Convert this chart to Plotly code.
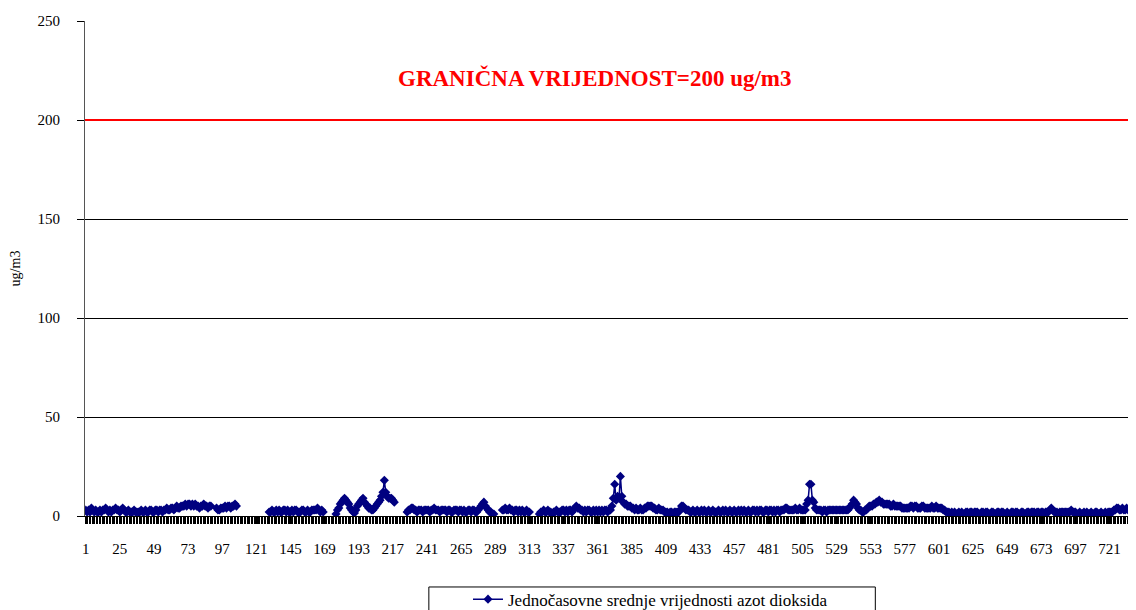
import plotly.graph_objects as go

# hourly NO2 means for one month (24 values per day, None = missing)
day_values = [
    [3, 2, 3, 2, 4, 3, 2, 3, 2, 2, 3, 2, 3, 3, 4, 3, 2, 3, 2, 3, 3, 4, 3, 3],
    [2, 3, 4, 3, 2, 2, 3, 2, 2, 2, 3, 2, 2, 2, 2, 3, 2, 2, 3, 2, 2, 3, 3, 2],
    [2, 3, 3, 2, 3, 3, 2, 3, 3, 4, 3, 3, 4, 4, 3, 4, 5, 4, 4, 5, 5, 5, 6, 5],
    [6, 6, 5, 6, 5, 6, 5, 5, 4, 5, 5, 6, 5, 5, 4, 5, 5, None, None, None, 4, 3, 3, 4],
    [4, 4, 5, 4, 5, 5, 4, 5, 5, 6, 5, None, None, None, None, None, None, None, None, None, None, None, None, None],
    [None, None, None, None, None, None, None, None, None, 2, 2, 3, 2, 2, 3, 2, 3, 2, 2, 3, 3, 2, 3, 2],
    [2, 3, 2, 3, 3, 2, 2, 2, 3, 3, 2, 2, 3, 2, 2, 3, 3, 3, 3, 4, 3, 2, 3, 2],
    [None, None, None, None, None, None, None, None, 1, 3, 4, 6, 7, 8, 9, 8, 7, 6, 4, 3, 2, 1.5, 3, 5],
    [6, 7, 8, 9, 7, 6, 5, 4, 4, 3, 3, 4, 5, 6, 7, 8, 10, 12, 18, 12, 10, 9, 9, 9],
    [8, 7, None, None, None, None, None, None, None, None, 2, 3, 3, 4, 4, 3, 3, 2, 3, 3, 3, 2, 3, 3],
    [3, 3, 2, 3, 3, 4, 3, 3, 3, 2, 3, 3, 3, 3, 2, 3, 3, 2, 2, 3, 3, 3, 2, 3],
    [3, 2, 3, 2, 2, 3, 3, 2, 3, 3, 2, 2, 3, 4, 5, 6, 7, 5, 4, 3, 2, 2, 1, 1],
    [None, None, None, None, None, 3, 3, 4, 3, 3, 4, 3, 3, 2, 3, 3, 2, 3, 2, 3, 2, 2, 3, 2],
    [2, None, None, None, None, None, None, 1, 2, 2, 3, 2, 2, 3, 2, 2, 1, 2, 2, 3, 2, 2, 2, 3],
    [3, 2, 3, 2, 3, 3, 2, 3, 4, 5, 4, 4, 3, 3, 2, 3, 2, 3, 3, 2, 2, 3, 2, 3],
    [2, 3, 2, 3, 2, 3, 3, 2, 3, 3, 5, 9, 16, 8, 10, 9, 20, 10, 7, 6, 6, 5, 5, 5],
    [4, 4, 3, 4, 3, 3, 4, 3, 3, 4, 4, 5, 5, 5, 5, 4, 4, 3, 3, 4, 3, 3, 3, 2],
    [2, 2, 1, 2, 2, 1, 2, 2, 2, 2, 3, 5, 5, 4, 3, 3, 3, 2, 2, 3, 2, 2, 3, 2],
    [2, 3, 2, 3, 2, 2, 3, 2, 2, 3, 2, 2, 2, 3, 2, 2, 3, 2, 3, 2, 2, 3, 2, 2],
    [3, 2, 2, 3, 2, 3, 2, 3, 2, 2, 3, 2, 2, 3, 3, 2, 3, 2, 3, 3, 2, 2, 3, 3],
    [2, 3, 3, 2, 3, 2, 3, 3, 2, 3, 3, 3, 4, 4, 3, 3, 3, 3, 3, 4, 3, 3, 4, 3],
    [3, 3, 3, 6, 8, 16, 16, 8, 7, 4, 3, 3, 3, 3, 2, 3, 3, 2, 3, 3, 3, 3, 3, 3],
    [3, 3, 3, 3, 3, 3, 3, 3, 3, 4, 5, 6, 8, 7, 6, 4, 3, 3, 2, 2, 3, 3, 4, 5],
    [5, 5, 6, 6, 7, 7, 8, 7, 7, 6, 6, 6, 6, 6, 5, 5, 6, 5, 5, 5, 5, 5, 4, 4],
    [4, 4, 4, 4, 5, 5, 4, 5, 5, 4, 4, 4, 5, 5, 4, 4, 4, 4, 4, 5, 4, 4, 5, 4],
    [4, 4, 4, 3, 3, 2, 2, 2, 1, 2, 1, 2, 1, 1, 2, 1, 2, 1, 1, 2, 2, 1, 2, 2],
    [1, 2, 2, 2, 1, 1, 2, 2, 1, 2, 2, 1, 1, 2, 2, 1, 1, 2, 2, 1, 2, 2, 1, 1],
    [2, 1, 1, 2, 2, 1, 2, 2, 1, 1, 2, 2, 1, 1, 2, 2, 1, 2, 2, 2, 1, 2, 2, 1],
    [2, 2, 1, 2, 2, 2, 3, 4, 3, 2, 2, 2, 1, 2, 2, 2, 2, 2, 2, 2, 2, 3, 2, 2],
    [2, 1, 1, 2, 1, 1, 2, 1, 2, 1, 1, 2, 1, 1, 2, 2, 1, 1, 2, 1, 1, 2, 1, 2],
    [2, 2, 2, 3, 3, 4, 4, 3, 3, 4, 3, 3, 4, 3, 3, 3, 4, 3, 3, 3, 4, 3, 3, 3],
]
values = [v for day in day_values for v in day]
hours = list(range(1, len(values) + 1))
tick_hours = list(range(1, 722, 24))
LIMIT = 200
series_name = "Jednočasovne srednje vrijednosti azot dioksida"
limit_text = "GRANIČNA VRIJEDNOST=200 ug/m3"

serif = "Liberation Serif"

fig = go.Figure()
fig.add_trace(go.Scatter(
    x=hours, y=values, mode="lines+markers", name=series_name,
    line=dict(color="#000080", width=1.5),
    marker=dict(symbol="diamond", size=7, color="#000080"),
    connectgaps=False,
))

fig.add_hline(y=LIMIT, line=dict(color="#ff0000", width=2), layer="above")

fig.add_annotation(
    x=0.482, xref="paper", y=221, yref="y", text="<b>" + limit_text + "</b>",
    showarrow=False, font=dict(family=serif, size=23, color="#ff0000"),
)

# legend box
fig.add_shape(type="rect", xref="paper", yref="paper",
              x0=0.325, x1=0.747, y0=-0.21, y1=-0.1434,
              line=dict(color="black", width=1), fillcolor="white", layer="below")

fig.update_layout(
    width=1136, height=610,
    margin=dict(l=77, r=1, t=13, b=102, autoexpand=False),
    plot_bgcolor="white", paper_bgcolor="white",
    font=dict(family=serif, size=15, color="black"),
    showlegend=True,
    legend=dict(x=0.362, y=-0.1325, xanchor="left", yanchor="top",
                bgcolor="rgba(0,0,0,0)", font=dict(family=serif, size=17),
                itemwidth=30, tracegroupgap=0),
    xaxis=dict(
        range=[0.5, 744.5], tickmode="array", tickvals=tick_hours,
        ticktext=[str(t) for t in tick_hours],
        ticks="outside", ticklen=7, tickcolor="black",
        minor=dict(dtick=1, tick0=0.5, ticks="outside", ticklen=7, tickcolor="black"),
        showgrid=False, zeroline=False, showline=True, linecolor="black",
        ticklabelstandoff=12, tickfont=dict(size=15), automargin=False,
    ),
    yaxis=dict(
        range=[0, 250], dtick=50, ticks="outside", ticklen=7, tickcolor="black",
        showgrid=True, gridcolor="black", gridwidth=1, zeroline=False,
        showline=True, linecolor="#555555", automargin=False,
        ticklabelstandoff=14,
        title=dict(text="ug/m3", font=dict(family=serif, size=14), standoff=23),
        tickfont=dict(size=15),
    ),
)

fig.write_html("out.html")
